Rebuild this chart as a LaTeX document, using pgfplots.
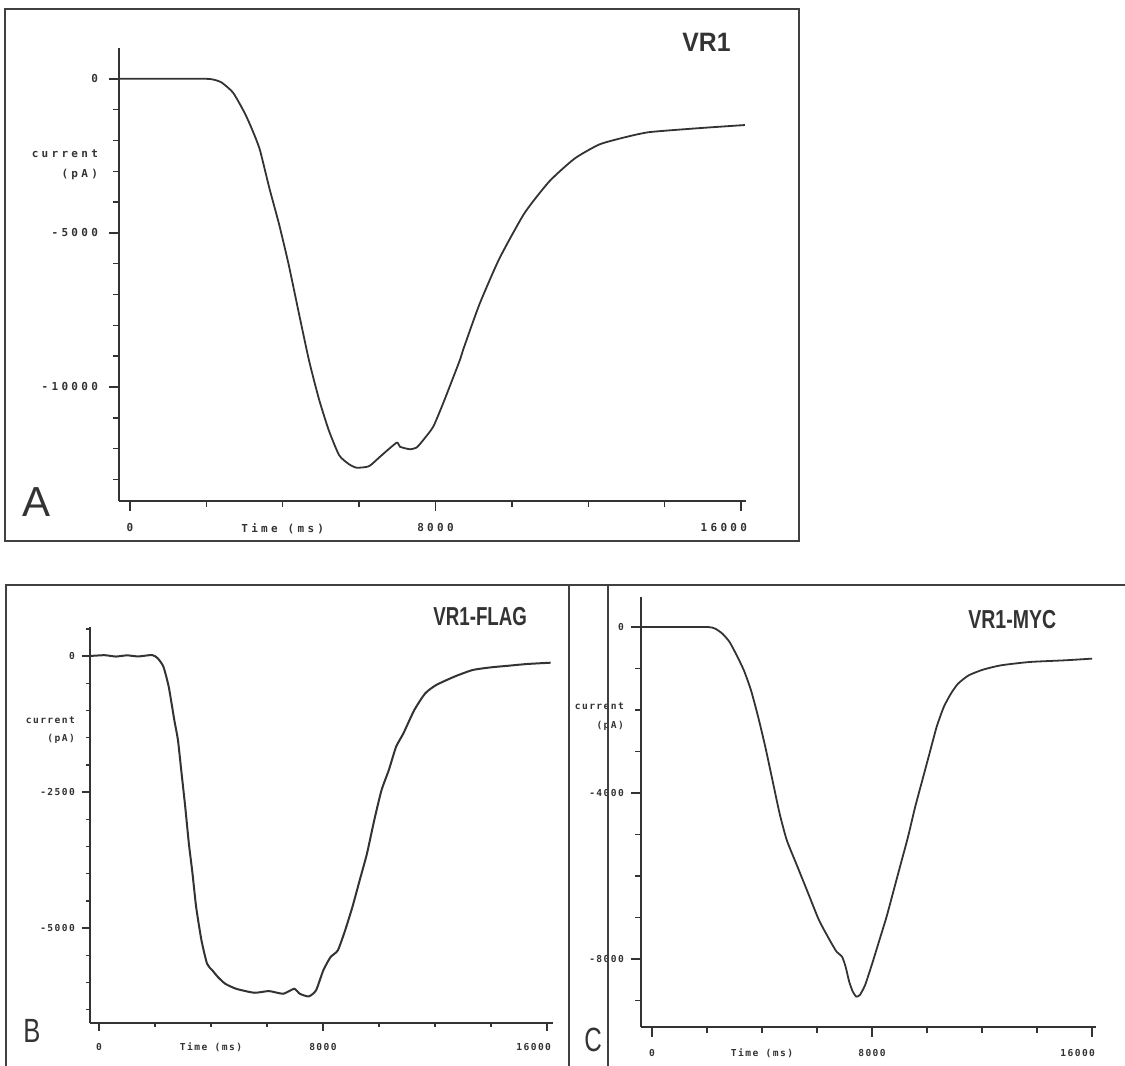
\documentclass[border=0pt]{standalone}
\usepackage{pgfplots}
\pgfplotsset{compat=1.18}
\usepackage{fontspec}
\setmainfont{Liberation Sans}
\newfontfamily\plotfontA[LetterSpace=30]{DejaVu Sans Mono Bold}
\newfontfamily\plotfontB[LetterSpace=15]{DejaVu Sans Mono Bold}
\newcommand\tickfontA{\plotfontA\fontsize{5.5pt}{10.25pt}\selectfont}
\newcommand\tickfontB{\plotfontB\fontsize{4.8pt}{9pt}\selectfont}
\newcommand\tickfontC{\plotfontB\fontsize{4.8pt}{9.5pt}\selectfont}
% last time label: right end sits just past its tick, as the plotter set it
\newcommand\lastlabel[2]{\makebox[0pt][r]{#2\kern-#1}}
\definecolor{ink}{HTML}{333333}
\definecolor{frame}{HTML}{404040}

\pgfplotsset{
  trace/.style={
    scale only axis,
    axis lines*=left,
    axis line style={ink, line width=0.9pt},
    tick align=outside,
    tick style={ink, line width=0.7pt},
    yticklabel style={align=right, text=ink},
    xticklabel style={text=ink, yshift=-2.5pt},
    scaled ticks=false,
    clip=false,
    extra x tick style={tick style={draw=none}},
    extra y tick style={tick style={draw=none}},
  },
  curve/.style={ink, line width=0.9pt, smooth, tension=0.35, mark=none},
}

\begin{document}
\begin{tikzpicture}
\path[use as bounding box] (0,0) rectangle (562.5pt,-533pt);

% ---------------- panel A : VR1 ----------------
\begin{axis}[trace,
  at={(59.5pt,-250.5pt)}, anchor=south west,
  width=313.5pt, height=226.5pt,
  xmin=-288, xmax=16131, ymin=-13700, ymax=1000,
  major tick length=5pt, minor tick length=3pt,
  tick label style={font=\tickfontA},
  yticklabel style={xshift=-2pt},
  xtick={0,8000,16000}, xticklabels={0,8000,\lastlabel{3pt}{16000}},
  minor xtick={2000,4000,6000,10000,12000,14000},
  extra x ticks={4000}, extra x tick labels={Time (ms)},
  ytick={-10000,-5000,0}, yticklabels={-10000,-5000,0},
  minor ytick={-13000,-12000,...,-1000},
  extra y ticks={-2790}, extra y tick labels={current\\(pA)},
]
\addplot[curve] coordinates {
(-288,0) (0,0) (1000,0) (2000,0) (2200,-30) (2400,-120) (2700,-450)
(3000,-1100) (3200,-1650) (3400,-2300) (3650,-3550) (3900,-4700)
(4150,-6000) (4430,-7650) (4690,-9150) (4950,-10400) (5210,-11420)
(5480,-12220) (5740,-12510) (5940,-12620) (6260,-12570) (6550,-12260)
(6980,-11810) (7070,-11940) (7330,-12020) (7510,-11960) (7680,-11720)
(7940,-11290) (8200,-10530) (8470,-9670) (8640,-9120) (8750,-8700)
(9150,-7320) (9670,-5840) (10330,-4360) (10980,-3330) (11640,-2590)
(12290,-2130) (12950,-1900) (13600,-1730) (14910,-1600) (16100,-1500)
};
\end{axis}

% ---------------- panel B : VR1-FLAG ----------------
\begin{axis}[trace,
  at={(45pt,-511.5pt)}, anchor=south west,
  width=231.5pt, height=198pt,
  xmin=-321, xmax=16214, ymin=-6746, ymax=533,
  major tick length=4pt, minor tick length=2pt,
  tick label style={font=\tickfontB},
  xtick={0,8000,16000}, xticklabels={0,8000,\lastlabel{2pt}{16000}},
  minor xtick={2000,4000,6000,10000,12000,14000},
  extra x ticks={4000}, extra x tick labels={Time (ms)},
  ytick={-5000,-2500,0}, yticklabels={-5000,-2500,0},
  minor ytick={-6500,-6000,...,500},
  extra y ticks={-1360}, extra y tick labels={current\\(pA)},
]
\addplot[curve, line width=1pt] coordinates {
(-321,0) (200,15) (600,-10) (1000,12) (1400,-8) (1900,18) (2100,-43)
(2300,-196) (2490,-564) (2690,-1178) (2820,-1546) (2950,-2160)
(3080,-2773) (3210,-3448) (3340,-4000) (3470,-4614) (3660,-5227)
(3860,-5656) (4050,-5779) (4250,-5902) (4510,-6025) (4900,-6117)
(5550,-6190) (6070,-6159) (6580,-6208) (6970,-6117) (7170,-6208)
(7490,-6257) (7750,-6147) (8010,-5779) (8270,-5534) (8530,-5411)
(8790,-5043) (9050,-4614) (9310,-4123) (9570,-3632) (9830,-3018)
(10090,-2466) (10350,-2098) (10610,-1669) (10870,-1423) (11260,-994)
(11650,-687) (12040,-534) (12690,-380) (13340,-258) (13990,-209)
(14640,-178) (15290,-147) (16130,-123)
};
\end{axis}

% ---------------- panel C : VR1-MYC ----------------
\begin{axis}[trace,
  at={(320.5pt,-513.5pt)}, anchor=south west,
  width=227.5pt, height=215pt,
  xmin=-400, xmax=16145, ymin=-9639, ymax=723,
  major tick length=5pt, minor tick length=3pt,
  tick label style={font=\tickfontC},
  xtick={0,8000,16000}, xticklabels={0,8000,\lastlabel{1.5pt}{16000}},
  minor xtick={2000,4000,6000,10000,12000,14000},
  extra x ticks={4000}, extra x tick labels={Time (ms)},
  ytick={-8000,-4000,0}, yticklabels={-8000,-4000,0},
  minor ytick={-9000,-8000,...,-1000},
  extra y ticks={-2157}, extra y tick labels={current\\(pA)},
]
\addplot[curve] coordinates {
(-400,0) (1000,0) (2040,0) (2300,-40) (2560,-160) (2820,-361)
(3080,-682) (3340,-1043) (3600,-1525) (3860,-2166) (4120,-2889)
(4380,-3691) (4640,-4493) (4900,-5135) (5290,-5777) (5680,-6419)
(6070,-7061) (6460,-7543) (6710,-7823) (6910,-7944) (7040,-8185)
(7170,-8546) (7300,-8786) (7430,-8906) (7560,-8866) (7750,-8626)
(8010,-8104) (8270,-7543) (8530,-6981) (8790,-6339) (9050,-5697)
(9310,-5055) (9570,-4333) (9830,-3691) (10090,-3049) (10350,-2407)
(10610,-1926) (10870,-1605) (11130,-1364) (11520,-1163) (12040,-1027)
(12690,-923) (13730,-843) (15030,-802) (16000,-762)
};
\end{axis}

% panel frames and lettering
\draw[frame, line width=1pt] (2.5pt,-4.5pt) rectangle (399.5pt,-270.5pt);
\draw[frame, line width=1pt] (3pt,-540pt) -- (3pt,-292.5pt) -- (570pt,-292.5pt);
\draw[frame, line width=1pt] (284.5pt,-292.5pt) -- (284.5pt,-540pt);
\draw[frame, line width=1pt] (304pt,-292.5pt) -- (304pt,-540pt);

\node[anchor=base west, inner sep=0pt, text=ink] at (341pt,-25.5pt)
  {\scalebox{0.93}[1]{\fontsize{13.3pt}{14pt}\selectfont\bfseries VR1}};
\node[anchor=base west, inner sep=0pt, text=ink] at (216.5pt,-312.5pt)
  {\scalebox{0.72}[1]{\fontsize{13pt}{14pt}\selectfont\bfseries VR1-FLAG}};
\node[anchor=base west, inner sep=0pt, text=ink] at (484pt,-314pt)
  {\scalebox{0.75}[1]{\fontsize{13pt}{14pt}\selectfont\bfseries VR1-MYC}};
\node[anchor=base west, inner sep=0pt, text=ink] at (11pt,-258pt)
  {\fontsize{21pt}{22pt}\selectfont A};
\node[anchor=base west, inner sep=0pt, text=ink] at (11.5pt,-521pt)
  {\scalebox{0.76}[1]{\fontsize{16.8pt}{17pt}\selectfont B}};
\node[anchor=base west, inner sep=0pt, text=ink] at (292pt,-525.5pt)
  {\scalebox{0.72}[1]{\fontsize{16.8pt}{17pt}\selectfont C}};
\end{tikzpicture}
\end{document}
